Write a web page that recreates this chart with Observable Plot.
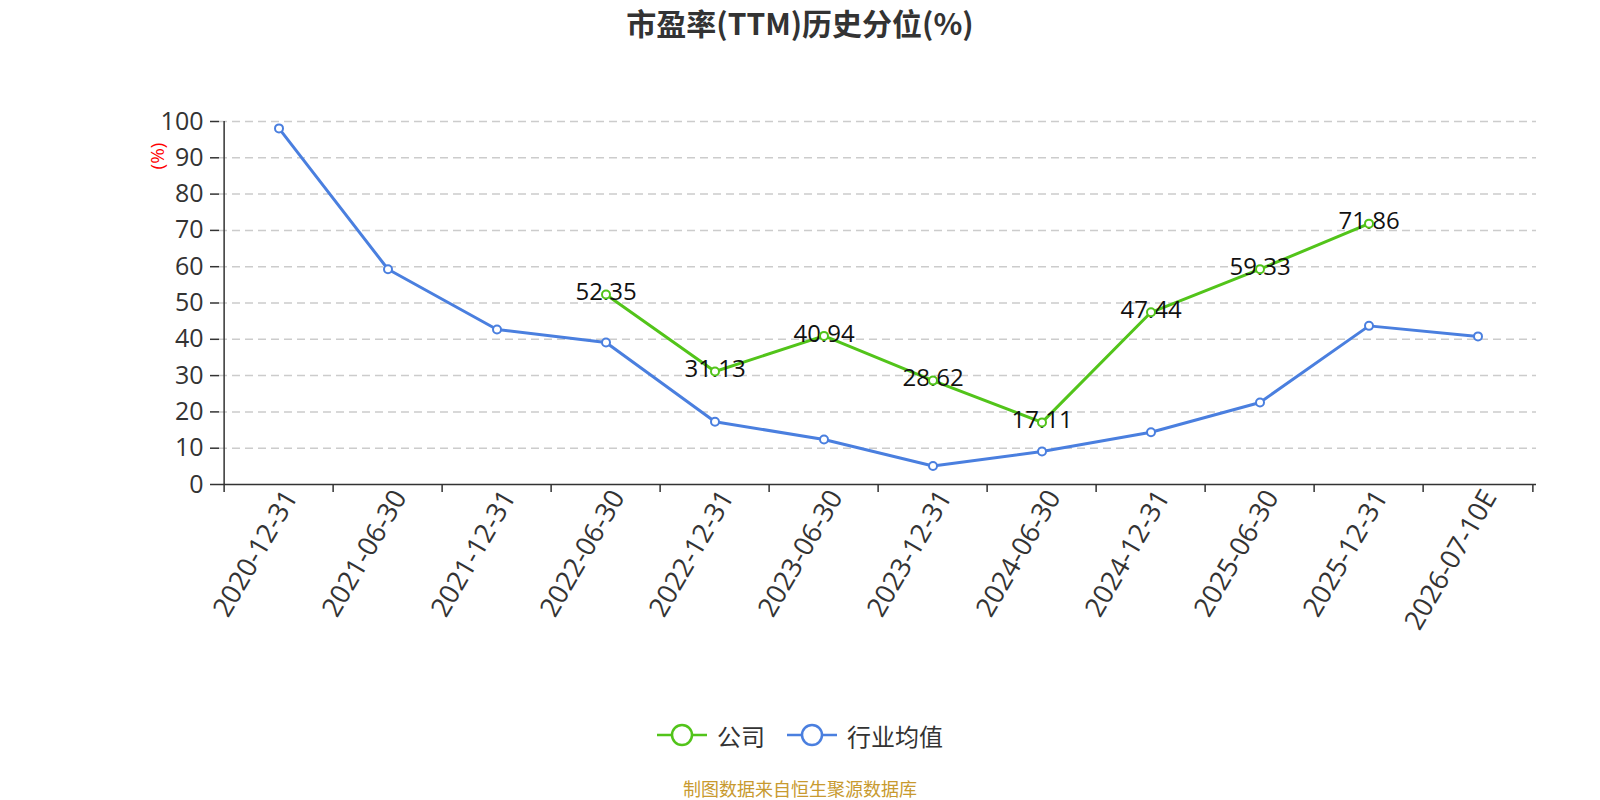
<!DOCTYPE html>
<html>
<head>
<meta charset="utf-8">
<script src="https://cdn.jsdelivr.net/npm/d3@7"></script>
<script src="https://cdn.jsdelivr.net/npm/@observablehq/plot@0.6"></script>
<style>
  body { margin: 0; background: #fff; font-family: "Open Sans", "Noto Sans CJK SC", sans-serif; }
  #wrap { position: relative; width: 1600px; height: 800px; overflow: hidden; background: #fff; }
  #title { position: absolute; left: 0; width: 1600px; top: 2px; line-height: 40px; text-align: center; font-size: 30px; font-weight: bold; color: #333; font-family: "Noto Sans CJK SC", "Open Sans", sans-serif; }
  #chart { position: absolute; left: 0; top: 0; }
  #yunit { position: absolute; left: 157px; top: 156px; transform: translate(-50%, -50%) rotate(-90deg); color: #f00; font-size: 19px; line-height: 20px; white-space: nowrap; }
  #legend { position: absolute; left: 0; top: 720px; width: 1600px; height: 30px; }
  .item { position: absolute; top: 0; height: 30px; display: flex; align-items: center; font-size: 24px; color: #333; font-family: "Noto Sans CJK SC", sans-serif; }
  .item svg { margin-right: 10px; }
  #caption { position: absolute; left: 0; width: 1600px; top: 778px; line-height: 20px; text-align: center; font-size: 18px; color: #c89a2f; font-family: "Noto Sans CJK SC", sans-serif; }
</style>
</head>
<body>
<div id="wrap">
  <div id="chart"></div>
  <div id="title">市盈率(TTM)历史分位(%)</div>
  <div id="yunit">(%)</div>
  <div id="legend"></div>
  <div id="caption">制图数据来自恒生聚源数据库</div>
</div>
<script>
const dates = ["2020-12-31","2021-06-30","2021-12-31","2022-06-30","2022-12-31","2023-06-30","2023-12-31","2024-06-30","2024-12-31","2025-06-30","2025-12-31","2026-07-10E"];
const company = [null, null, null, 52.35, 31.13, 40.94, 28.62, 17.11, 47.44, 59.33, 71.86, null];
const industry = [98.1, 59.3, 42.7, 39.1, 17.3, 12.4, 5.1, 9.1, 14.4, 22.6, 43.7, 40.8];
const yTicks = [0, 10, 20, 30, 40, 50, 60, 70, 80, 90, 100];
const seriesNames = ["公司", "行业均值"];
const seriesColors = ["#52c41a", "#4a7fdf"];

const rows = dates.map((d, i) => ({date: d, company: company[i], industry: industry[i]}));
const compRows = rows.filter(r => r.company != null);

const W = 1600, H = 680, ML = 219, MR = 64, MT = 121, MB = 196;
const bw = (W - ML - MR) / dates.length;

const chart = Plot.plot({
  width: W, height: H,
  marginLeft: ML, marginRight: MR, marginTop: MT, marginBottom: MB,
  style: {fontFamily: '"Open Sans", "Noto Sans CJK SC", sans-serif', background: "transparent", overflow: "visible"},
  x: {type: "band", domain: dates, padding: 0},
  y: {domain: [0, 100]},
  marks: [
    Plot.ruleY(yTicks.filter(v => v > 0), {stroke: "#ccc", strokeWidth: 1.5, strokeDasharray: "8,5"}),
    Plot.axisY({ticks: yTicks, tickSize: 9, tickPadding: 7, fontSize: 25, fill: "#333", stroke: "#333", strokeWidth: 1.5, label: null}),
    Plot.ruleX([dates[0]], {dx: -bw / 2, y1: 0, y2: 100, stroke: "#333", strokeWidth: 1.5}),
    Plot.ruleY([0], {stroke: "#333", strokeWidth: 1.5}),
    Plot.axisX({ticks: dates, tickSize: 8, text: null, dx: -bw / 2, stroke: "#333", strokeWidth: 1.5, label: null}),
    Plot.axisX({ticks: [dates[dates.length - 1]], tickSize: 8, text: null, dx: bw / 2, stroke: "#333", strokeWidth: 1.5, label: null}),
    Plot.axisX({ticks: dates, tickSize: 0, tickPadding: 8, dx: 12, tickRotate: -60, fontSize: 27, fill: "#333", label: null}),
    Plot.line(rows, {x: "date", y: "industry", stroke: seriesColors[1], strokeWidth: 3}),
    Plot.line(compRows, {x: "date", y: "company", stroke: seriesColors[0], strokeWidth: 3}),
    Plot.dot(rows, {x: "date", y: "industry", r: 4, fill: "#fff", stroke: seriesColors[1], strokeWidth: 2}),
    Plot.text(compRows, {x: "date", y: "company", text: d => d.company.toFixed(2), dy: -2, fontSize: 24, fill: "#111"}),
    Plot.dot(compRows, {x: "date", y: "company", r: 4, fill: "#fff", stroke: seriesColors[0], strokeWidth: 2})
  ]
});
document.getElementById("chart").appendChild(chart);

// legend
const legend = document.getElementById("legend");
const lefts = [657, 787];
seriesNames.forEach((name, i) => {
  const item = document.createElement("div");
  item.className = "item";
  item.style.left = lefts[i] + "px";
  const c = seriesColors[i];
  item.innerHTML = `<svg width="50" height="24" viewBox="0 0 50 24"><line x1="0" y1="12" x2="50" y2="12" stroke="${c}" stroke-width="2.5"/><circle cx="25" cy="12" r="10" fill="#fff" stroke="${c}" stroke-width="2.5"/></svg><span>${name}</span>`;
  legend.appendChild(item);
});
</script>
</body>
</html>
